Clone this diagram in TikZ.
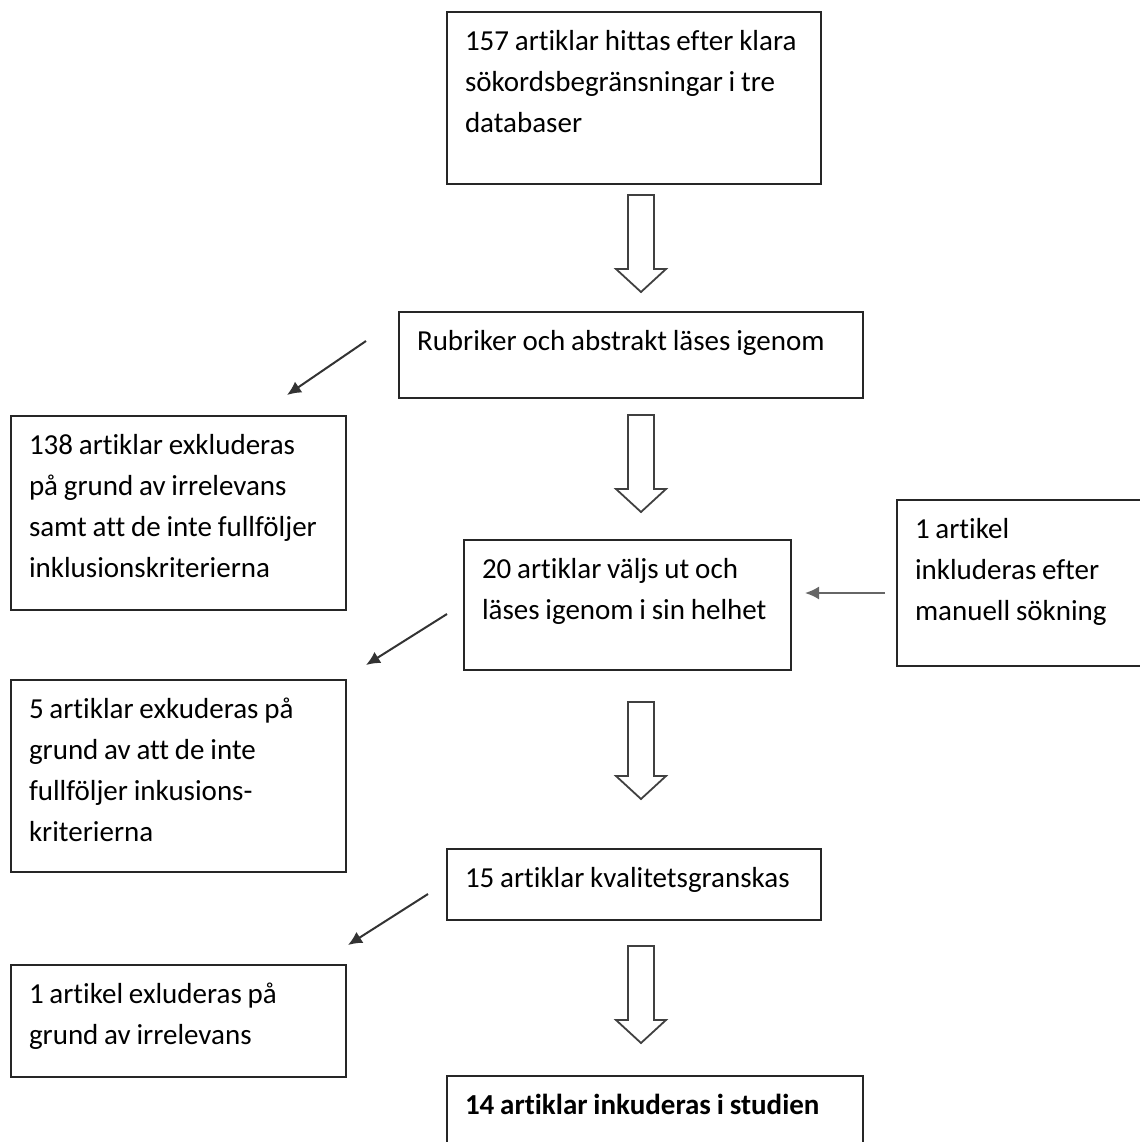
\documentclass[tikz,border=0pt]{standalone}
\usepackage{fontspec}
\setmainfont{Carlito}[Ligatures=NoCommon]
\usetikzlibrary{arrows.meta,calc}

\newcommand{\boxfont}{\fontsize{14.5}{20.5}\selectfont}
\newcommand{\tightspace}{\spaceskip=0.2em plus 0.05em minus 0.05em\relax
  \xspaceskip=0.2em\relax\hyphenpenalty=10000\relax}

\tikzset{
  box/.style={draw=black!85, line width=1pt, anchor=north west,
    inner xsep=9pt, inner ysep=0pt, text height=19pt, font=\boxfont,
    execute at begin node=\tightspace},
  thinarrow/.style={draw=black!80, line width=1pt, -{Latex[length=7pt,width=6.5pt]}},
  downarrow/.pic={
    \draw[black!75, line width=0.9pt, line join=miter]
      (-13,0) -- (-13,74) -- (-25,74) -- (0,97) -- (25,74) -- (13,74) -- (13,0) -- cycle;
  }
}

\begin{document}
\begin{tikzpicture}[x=0.5pt,y=-0.5pt]
  \useasboundingbox (0,0) rectangle (1140,1142);
  \clip (0,0) rectangle (1140,1142);

  % boxes down the middle
  \node[box, text width=169pt, text depth=67pt] (found) at (446,11)
    {157 artiklar hittas efter klara\\ sökordsbegränsningar i tre\\ databaser};
  \node[box, text width=214pt, text depth=24pt] (titles) at (398,311)
    {Rubriker och abstrakt läses igenom};
  \node[box, text width=145.5pt, text depth=46pt] (chosen) at (463,539)
    {20 artiklar väljs ut och\\ läses igenom i sin helhet};
  \node[box, text width=169pt, text depth=16.5pt] (quality) at (446,848)
    {15 artiklar kvalitetsgranskas};
  \node[box, text width=190pt, text depth=26pt] (result) at (446,1075)
    {\textbf{14 artiklar inkuderas i studien}};

  % boxes on the sides
  \node[box, text width=149.5pt, text depth=78pt] (excl1) at (10,415)
    {138 artiklar exkluderas\\ på grund av irrelevans\\ samt att de inte fullföljer\\ inklusionskriterierna};
  \node[box, text width=149.5pt, text depth=77pt] (excl2) at (10,679)
    {5 artiklar exkuderas på\\ grund av att de inte\\ fullföljer inkusions-\\ kriterierna};
  \node[box, text width=149.5pt, text depth=37pt] (excl3) at (10,964)
    {1 artikel exluderas på\\ grund av irrelevans};
  \node[box, text width=122pt, text depth=64pt] (manual) at (896,499)
    {1 artikel\\ inkluderas efter\\ manuell sökning};

  % block arrows
  \foreach \y in {195,415,702,946}
    \pic at (641,\y) {downarrow};

  % side arrows
  \draw[thinarrow] ($(titles.north west)+(-32,30)$) -- ($(excl1.north east)+(-60,-20)$);
  \draw[thinarrow] ($(chosen.south west)+(-16,-57)$) -- ($(excl2.north east)+(19,-14)$);
  \draw[thinarrow] ($(quality.south west)+(-18,-27)$) -- ($(excl3.north east)+(1,-19)$);
  \draw[thinarrow, draw=black!60] ($(manual.west)+(-11,10)$) -- ($(chosen.east)+(13,-12)$);
\end{tikzpicture}
\end{document}
